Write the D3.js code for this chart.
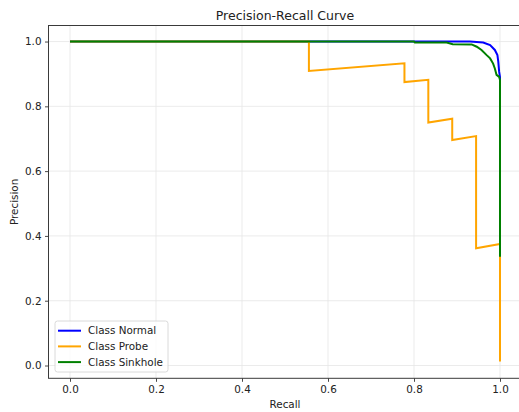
<!DOCTYPE html>
<html><head><meta charset="utf-8">
<script src="https://cdn.jsdelivr.net/npm/d3@7"></script>
<style>
body{margin:0;background:#fff;}
svg text{font-family:"DejaVu Sans",sans-serif;fill:#222;}
</style></head>
<body><svg id="c" width="519" height="412"></svg>
<script>
const ticks = [0, 0.2, 0.4, 0.6, 0.8, 1.0];
const classNames = ["Class Normal", "Class Probe", "Class Sinkhole"];
const colors = ["#0000ff", "#ffa500", "#008000"];

const normalRecall    = [0, 0.802, 0.93, 0.961, 0.977, 0.988, 0.994, 0.996, 0.998, 1.0, 1.0];
const normalPrecision = [1, 1, 1, 0.997, 0.989, 0.974, 0.958, 0.938, 0.907, 0.89, 0.65];

const probeRecall    = [0, 0.5556, 0.5556, 0.7778, 0.7778, 0.8333, 0.8333, 0.8889, 0.8889, 0.9444, 0.9444, 1.0, 1.0];
const probePrecision = [1, 1, 0.909, 0.933, 0.875, 0.882, 0.75, 0.762, 0.696, 0.708, 0.362, 0.375, 0.012];

const sinkRecall    = [0, 0.8, 0.802, 0.876, 0.89, 0.934, 0.946, 0.957, 0.969, 0.977, 0.984, 0.988, 0.992, 0.998, 1.0, 1.0];
const sinkPrecision = [1, 1, 0.997, 0.997, 0.992, 0.991, 0.984, 0.974, 0.958, 0.948, 0.932, 0.917, 0.897, 0.891, 0.881, 0.336];

const series = [
  {name: classNames[0], color: colors[0], r: normalRecall, p: normalPrecision},
  {name: classNames[1], color: colors[1], r: probeRecall, p: probePrecision},
  {name: classNames[2], color: colors[2], r: sinkRecall, p: sinkPrecision}
];

const L = 48.5, R = 521.5, T = 25.5, B = 378.3;
const svg = d3.select("#c");
const x = d3.scaleLinear().domain([-0.05, 1.05]).range([L, R]);
const y = d3.scaleLinear().domain([-0.0395, 1.0495]).range([B, T]);

// grid
const g = svg.append("g");
g.selectAll(".gx").data(ticks).enter().append("line")
  .attr("x1", d => x(d)).attr("x2", d => x(d)).attr("y1", T).attr("y2", B)
  .attr("stroke", "#e6e6e6").attr("stroke-width", 0.8);
g.selectAll(".gy").data(ticks).enter().append("line")
  .attr("y1", d => y(d)).attr("y2", d => y(d)).attr("x1", L).attr("x2", R)
  .attr("stroke", "#e6e6e6").attr("stroke-width", 0.8);

// lines
const line = d3.line().x(d => x(d[0])).y(d => y(d[1]));
series.forEach(s => {
  const pts = s.r.map((v, i) => [v, s.p[i]]);
  svg.append("path").attr("d", line(pts)).attr("fill", "none")
    .attr("stroke", s.color).attr("stroke-width", 2).attr("stroke-linejoin", "miter");
});

// axes
const xAxis = d3.axisBottom(x).tickValues(ticks).tickFormat(d3.format(".1f")).tickSize(3.5).tickPadding(3.5);
const yAxis = d3.axisLeft(y).tickValues(ticks).tickFormat(d3.format(".1f")).tickSize(3.5).tickPadding(3.5);
const gx = svg.append("g").attr("transform", `translate(0,${B})`).call(xAxis);
const gy = svg.append("g").attr("transform", `translate(${L},0)`).call(yAxis);
[gx, gy].forEach(a => {
  a.select(".domain").remove();
  a.selectAll("line").attr("stroke", "#333").attr("stroke-width", 0.9);
  a.selectAll("text").attr("font-size", 10.4).attr("font-family", "DejaVu Sans").attr("fill", "#222");
});
svg.append("rect").attr("x", L).attr("y", T).attr("width", R - L).attr("height", B - T)
  .attr("fill", "none").attr("stroke", "#3a3a3a").attr("stroke-width", 1);

// title & labels
svg.append("text").attr("x", (L + R) / 2).attr("y", 19.5).attr("text-anchor", "middle")
  .attr("font-size", 12.5).text("Precision-Recall Curve");
svg.append("text").attr("x", (L + R) / 2).attr("y", 408).attr("text-anchor", "middle")
  .attr("font-size", 10.4).text("Recall");
svg.append("text").attr("transform", `translate(18,${(T + B) / 2}) rotate(-90)`)
  .attr("text-anchor", "middle").attr("font-size", 10.4).text("Precision");

// legend
const lg = svg.append("g");
lg.append("rect").attr("x", 55).attr("y", 321).attr("width", 113).attr("height", 51).attr("rx", 2.5)
  .attr("fill", "#fff").attr("fill-opacity", 0.8).attr("stroke", "#d0d0d0").attr("stroke-width", 0.8);
series.forEach((s, i) => {
  const yy = 330.7 + i * 15.7;
  lg.append("line").attr("x1", 58).attr("x2", 81).attr("y1", yy).attr("y2", yy)
    .attr("stroke", s.color).attr("stroke-width", 2);
  lg.append("text").attr("x", 88).attr("y", yy + 3.7).attr("font-size", 10.4).text(s.name);
});
</script></body></html>
